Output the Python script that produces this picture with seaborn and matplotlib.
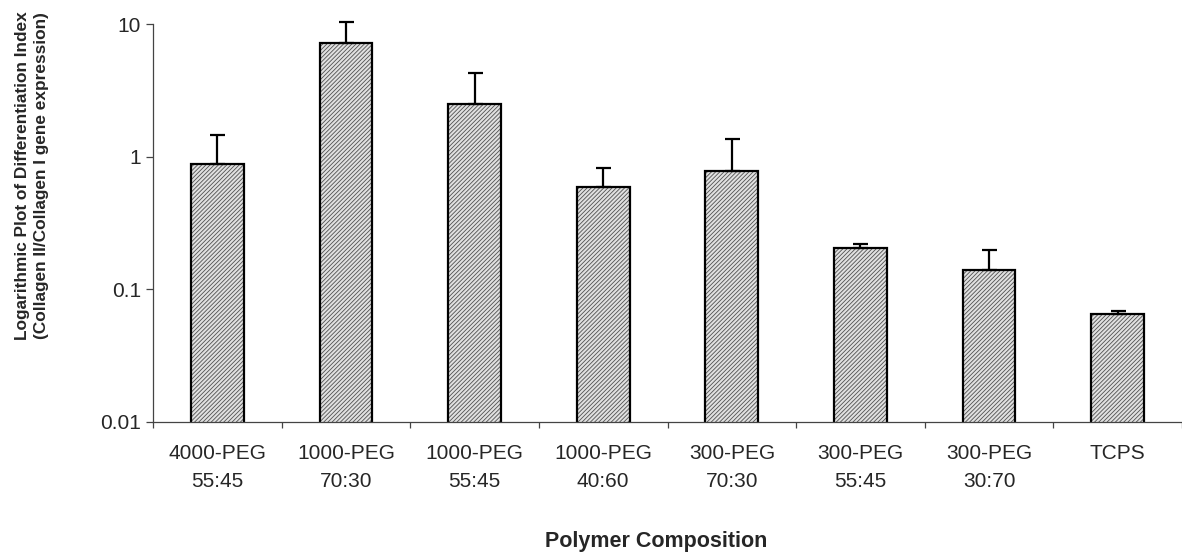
import numpy as np
import pandas as pd
import matplotlib
matplotlib.use('Agg')
import matplotlib.pyplot as plt
import seaborn as sns

# Values (log scale)
compositions = ['4000-PEG\n55:45', '1000-PEG\n70:30', '1000-PEG\n55:45', '1000-PEG\n40:60',
                '300-PEG\n70:30', '300-PEG\n55:45', '300-PEG\n30:70', 'TCPS']
diff_index = [0.88, 7.2, 2.49, 0.593, 0.783, 0.204, 0.140, 0.0648]
err_top = [1.46, 10.3, 4.29, 0.817, 1.365, 0.218, 0.198, 0.069]

y_ticks = [0.01, 0.1, 1, 10]
y_tick_labels = ['0.01', '0.1', '1', '10']

df = pd.DataFrame({'comp': compositions, 'value': diff_index})

sns.set_style('white')
plt.rcParams['font.family'] = ['Liberation Sans', 'DejaVu Sans']
plt.rcParams['hatch.linewidth'] = 0.6

fig = plt.figure(figsize=(11.82, 5.52), dpi=100)
ax = fig.add_axes([153 / 1182, 1 - 422 / 552, 1029 / 1182, 398 / 552])

# hatched fill first, then the black outline on top
sns.barplot(data=df, x='comp', y='value', ax=ax, width=0.41, color='#e0e0e0',
            edgecolor='#505050', hatch='////////', linewidth=0)
sns.barplot(data=df, x='comp', y='value', ax=ax, width=0.41, fill=False,
            edgecolor='black', linewidth=1.6)

# upper error bars only
upper = np.array(err_top) - np.array(diff_index)
eb = ax.errorbar(np.arange(len(compositions)), diff_index,
                 yerr=[np.zeros(len(upper)), upper], fmt='none',
                 ecolor='black', elinewidth=1.6, capsize=5.4, capthick=1.6, zorder=1)
for art in eb.lines[1] + eb.lines[2]:
    art.set_clip_on(False)

ax.set_yscale('log')
ax.set_ylim(0.01, 10)
ax.set_xlim(-0.5, 7.446)
ax.set_yticks(y_ticks)
ax.set_yticklabels(y_tick_labels)
ax.minorticks_off()
ax.set_xticks(np.arange(-0.5, 8, 1), minor=True)

for s in ['top', 'right']:
    ax.spines[s].set_visible(False)
for s in ['left', 'bottom']:
    ax.spines[s].set_color('#444444')
    ax.spines[s].set_linewidth(0.9)

ax.tick_params(axis='y', which='major', direction='out', length=5, width=0.9,
               color='#444444', pad=3.5, labelsize=15, left=True)
ax.tick_params(axis='x', which='major', length=0, pad=15.5, labelsize=15)
ax.tick_params(axis='x', which='minor', direction='out', length=4, width=0.9,
               color='#444444', bottom=True)
for lab in ax.get_xticklabels():
    lab.set_linespacing(1.65)

ax.set_xlabel('Polymer Composition', fontsize=15.5, fontweight='bold')
ax.xaxis.set_label_coords(0.489, -0.275)
ax.set_ylabel('Logarithmic Plot of Differentiation Index\n(Collagen II/Collagen I gene expression)',
              fontsize=12.4, fontweight='bold', linespacing=1.35)
ax.yaxis.set_label_coords(-0.101, 0.618)

fig.savefig('out.png', dpi=100)
